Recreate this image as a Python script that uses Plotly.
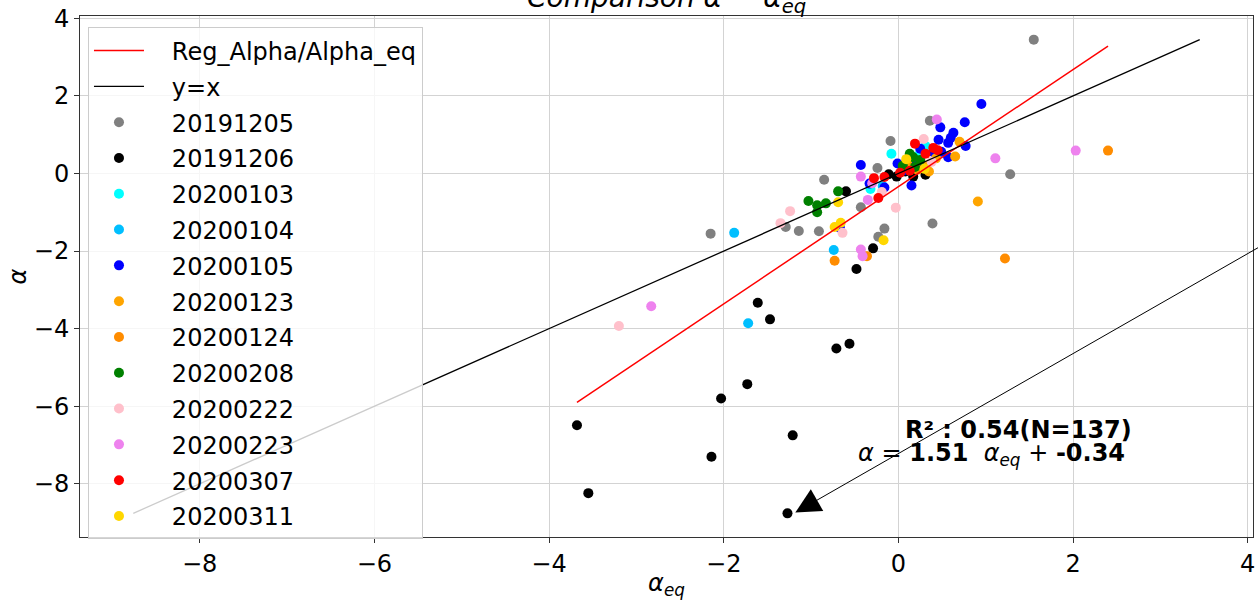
import plotly.graph_objects as go

# ---------------- data ----------------
series_names = ["20191205", "20191206", "20200103", "20200104", "20200105", "20200123",
                "20200124", "20200208", "20200222", "20200223", "20200307", "20200311"]

x_20191205 = [1.55, 0.36, -0.09, -0.24, 1.28, -0.85, -0.43, -1.14, -0.91, -0.16, -0.23, 0.39, -2.15, -1.29, 0.05]
y_20191205 = [3.45, 1.36, 0.84, 0.14, -0.02, -0.16, -0.87, -1.48, -1.49, -1.42, -1.63, -1.29, -1.55, -1.38, 0.10]

x_20191206 = [-0.11, -0.02, 0.31, 0.17, 0.22, -0.60, -0.29, -0.48, -1.61, -1.47, -0.71, -0.56, -1.73, -2.03, -3.68, -1.21, -2.14, -3.55, -1.27, 0.08]
y_20191206 = [-0.02, -0.08, -0.03, -0.08, 0.15, -0.46, -1.93, -2.46, -3.33, -3.76, -4.51, -4.39, -5.43, -5.80, -6.49, -6.75, -7.30, -8.24, -8.76, 0.05]

x_20200103 = [-0.08, 0.31, -0.32, 0.22]
y_20200103 = [0.51, 0.71, -0.40, 0.45]

x_20200104 = [-1.88, -0.74, -1.72, -0.18]
y_20200104 = [-1.53, -1.97, -3.86, -0.32]

x_20200105 = [0.95, 0.76, 0.48, 0.63, 0.60, 0.46, 0.57, 0.77, 0.25, 0.49, 0.57, -0.43, -0.01, 0.05, 0.15, -0.16, -0.33, 0.40, 0.20, -0.67]
y_20200105 = [1.79, 1.32, 1.19, 1.05, 0.92, 0.87, 0.79, 0.71, 0.64, 0.56, 0.42, 0.22, 0.26, 0.07, -0.31, -0.36, -0.26, 0.55, 0.30, -1.40]

x_20200123 = [0.70, 0.65, 0.43, 0.32, 0.91, 0.10, 0.35]
y_20200123 = [0.82, 0.44, 0.39, 0.20, -0.72, 0.30, 0.05]

x_20200124 = [2.40, 1.22, -0.73, -0.36, 0.22]
y_20200124 = [0.59, -2.19, -2.25, -2.13, 0.10]

x_20200208 = [0.13, 0.17, 0.19, -1.03, -0.93, -0.93, -0.83, -0.69, 0.05, 0.25]
y_20200208 = [0.51, 0.42, 0.17, -0.71, -0.82, -1.00, -0.77, -0.46, 0.20, 0.35]

x_20200222 = [0.29, -0.19, -0.03, -1.24, -1.35, -0.64, -3.20, 0.38]
y_20200222 = [0.89, -0.48, -0.88, -0.97, -1.28, -1.53, -3.93, 0.30]

x_20200223 = [0.44, 1.11, 2.03, -0.43, -0.35, -0.43, -0.41, -2.83, -0.30]
y_20200223 = [1.39, 0.39, 0.59, -0.08, -0.68, -1.96, -2.13, -3.42, -0.25]

x_20200307 = [0.19, 0.40, 0.31, 0.13, -0.28, -0.16, -0.23, 0.45, 0.02]
y_20200307 = [0.77, 0.66, 0.51, 0.07, -0.12, -0.09, -0.63, 0.60, 0.02]

x_20200311 = [0.09, -0.69, -0.73, -0.66, -0.17, 0.30]
y_20200311 = [0.37, -0.74, -1.38, -1.27, -1.72, 0.12]

series_colors = ["#808080", "#000000", "#00ffff", "#00bfff", "#0000ff", "#ffa500",
                 "#ff8c00", "#008000", "#ffc0cb", "#ee82ee", "#ff0000", "#ffd700"]

REG_SLOPE = 1.51
REG_INTERCEPT = -0.34
R2 = 0.54
N_POINTS = 137

xs_all = [x_20191205, x_20191206, x_20200103, x_20200104, x_20200105, x_20200123,
          x_20200124, x_20200208, x_20200222, x_20200223, x_20200307, x_20200311]
ys_all = [y_20191205, y_20191206, y_20200103, y_20200104, y_20200105, y_20200123,
          y_20200124, y_20200208, y_20200222, y_20200223, y_20200307, y_20200311]

FONT = "DejaVu Sans"
FS = 24
PAD = "   "  # gap between legend symbol and label

fig = go.Figure()

for i, (name, xs, ys, col) in enumerate(zip(series_names, xs_all, ys_all, series_colors)):
    fig.add_trace(go.Scatter(
        x=xs, y=ys, mode="markers", name=PAD + name, legendgroup=name, legendrank=10 + i,
        marker=dict(color=col, size=10, line=dict(width=0)),
    ))

flat_x = [v for xs in xs_all for v in xs]
flat_y = [v for ys in ys_all for v in ys]
xmin, xmax = min(flat_x), max(flat_x)
allmin, allmax = min(flat_x + flat_y), max(flat_x + flat_y)

fig.add_trace(go.Scatter(
    x=[xmin, xmax], y=[REG_SLOPE * xmin + REG_INTERCEPT, REG_SLOPE * xmax + REG_INTERCEPT],
    mode="lines", name=PAD + "Reg_Alpha/Alpha_eq", legendgroup="reg", legendrank=1,
    line=dict(color="#ff0000", width=1.5),
))
fig.add_trace(go.Scatter(
    x=[allmin, allmax], y=[allmin, allmax],
    mode="lines", name=PAD + "y=x", legendgroup="yx", legendrank=2,
    line=dict(color="#000000", width=1.3),
))

axis_common = dict(
    range=[-9.37, 4.06], tick0=0, dtick=2,
    showgrid=True, gridcolor="#d3d3d3", gridwidth=1,
    zeroline=False, showline=True, linecolor="#333333", linewidth=1, mirror=True,
    ticks="outside", ticklen=5, tickcolor="#333333",
    tickfont=dict(family=FONT, size=FS, color="#000000"),
)

fig.update_layout(
    width=1258, height=600,
    margin=dict(l=80, r=3, t=16, b=55),
    paper_bgcolor="white", plot_bgcolor="white",
    font=dict(family=FONT, color="#000000"),
    xaxis=dict(axis_common, title=dict(text="<i>α</i><sub><i>eq</i></sub>", font=dict(family=FONT, size=FS), standoff=2)),
    yaxis=dict(axis_common, title=dict(text="<i>α</i>", font=dict(family=FONT, size=FS), standoff=0)),
    legend=dict(
        x=0.0068, y=0.978, xanchor="left", yanchor="top",
        bgcolor="rgba(255,255,255,0.8)", bordercolor="#cccccc", borderwidth=1,
        font=dict(family=FONT, size=FS, color="#000000"),
        tracegroupgap=1.6, itemwidth=50,
    ),
    showlegend=True,
)

fig.add_annotation(
    text="<i>Comparison α − α</i><sub><i>eq</i></sub>", xref="paper", yref="paper",
    x=0.5, y=0.992, xanchor="center", yanchor="bottom", showarrow=False,
    font=dict(family=FONT, size=28, color="#000000"),
)
fig.add_annotation(
    text="<b>R² : %.2f(N=%d)</b>" % (R2, N_POINTS), xref="x", yref="y",
    x=1.38, y=-6.6, xanchor="center", yanchor="middle", showarrow=False,
    font=dict(family=FONT, size=FS, color="#000000"),
)
fig.add_annotation(
    text="<i>α</i> = <b>%.2f</b>  <i>α</i><sub><i>eq</i></sub> + <b>%.2f</b>" % (REG_SLOPE, REG_INTERCEPT),
    xref="x", yref="y", x=1.07, y=-7.25, xanchor="center", yanchor="middle", showarrow=False,
    font=dict(family=FONT, size=FS, color="#000000"),
)
fig.add_annotation(
    text="", x=-1.18, y=-8.74, xref="x", yref="y",
    ax=4.5, ay=-1.42, axref="x", ayref="y",
    showarrow=True, arrowhead=2, arrowsize=5, arrowwidth=1, arrowcolor="#000000",
)

fig.write_html("out.html")
